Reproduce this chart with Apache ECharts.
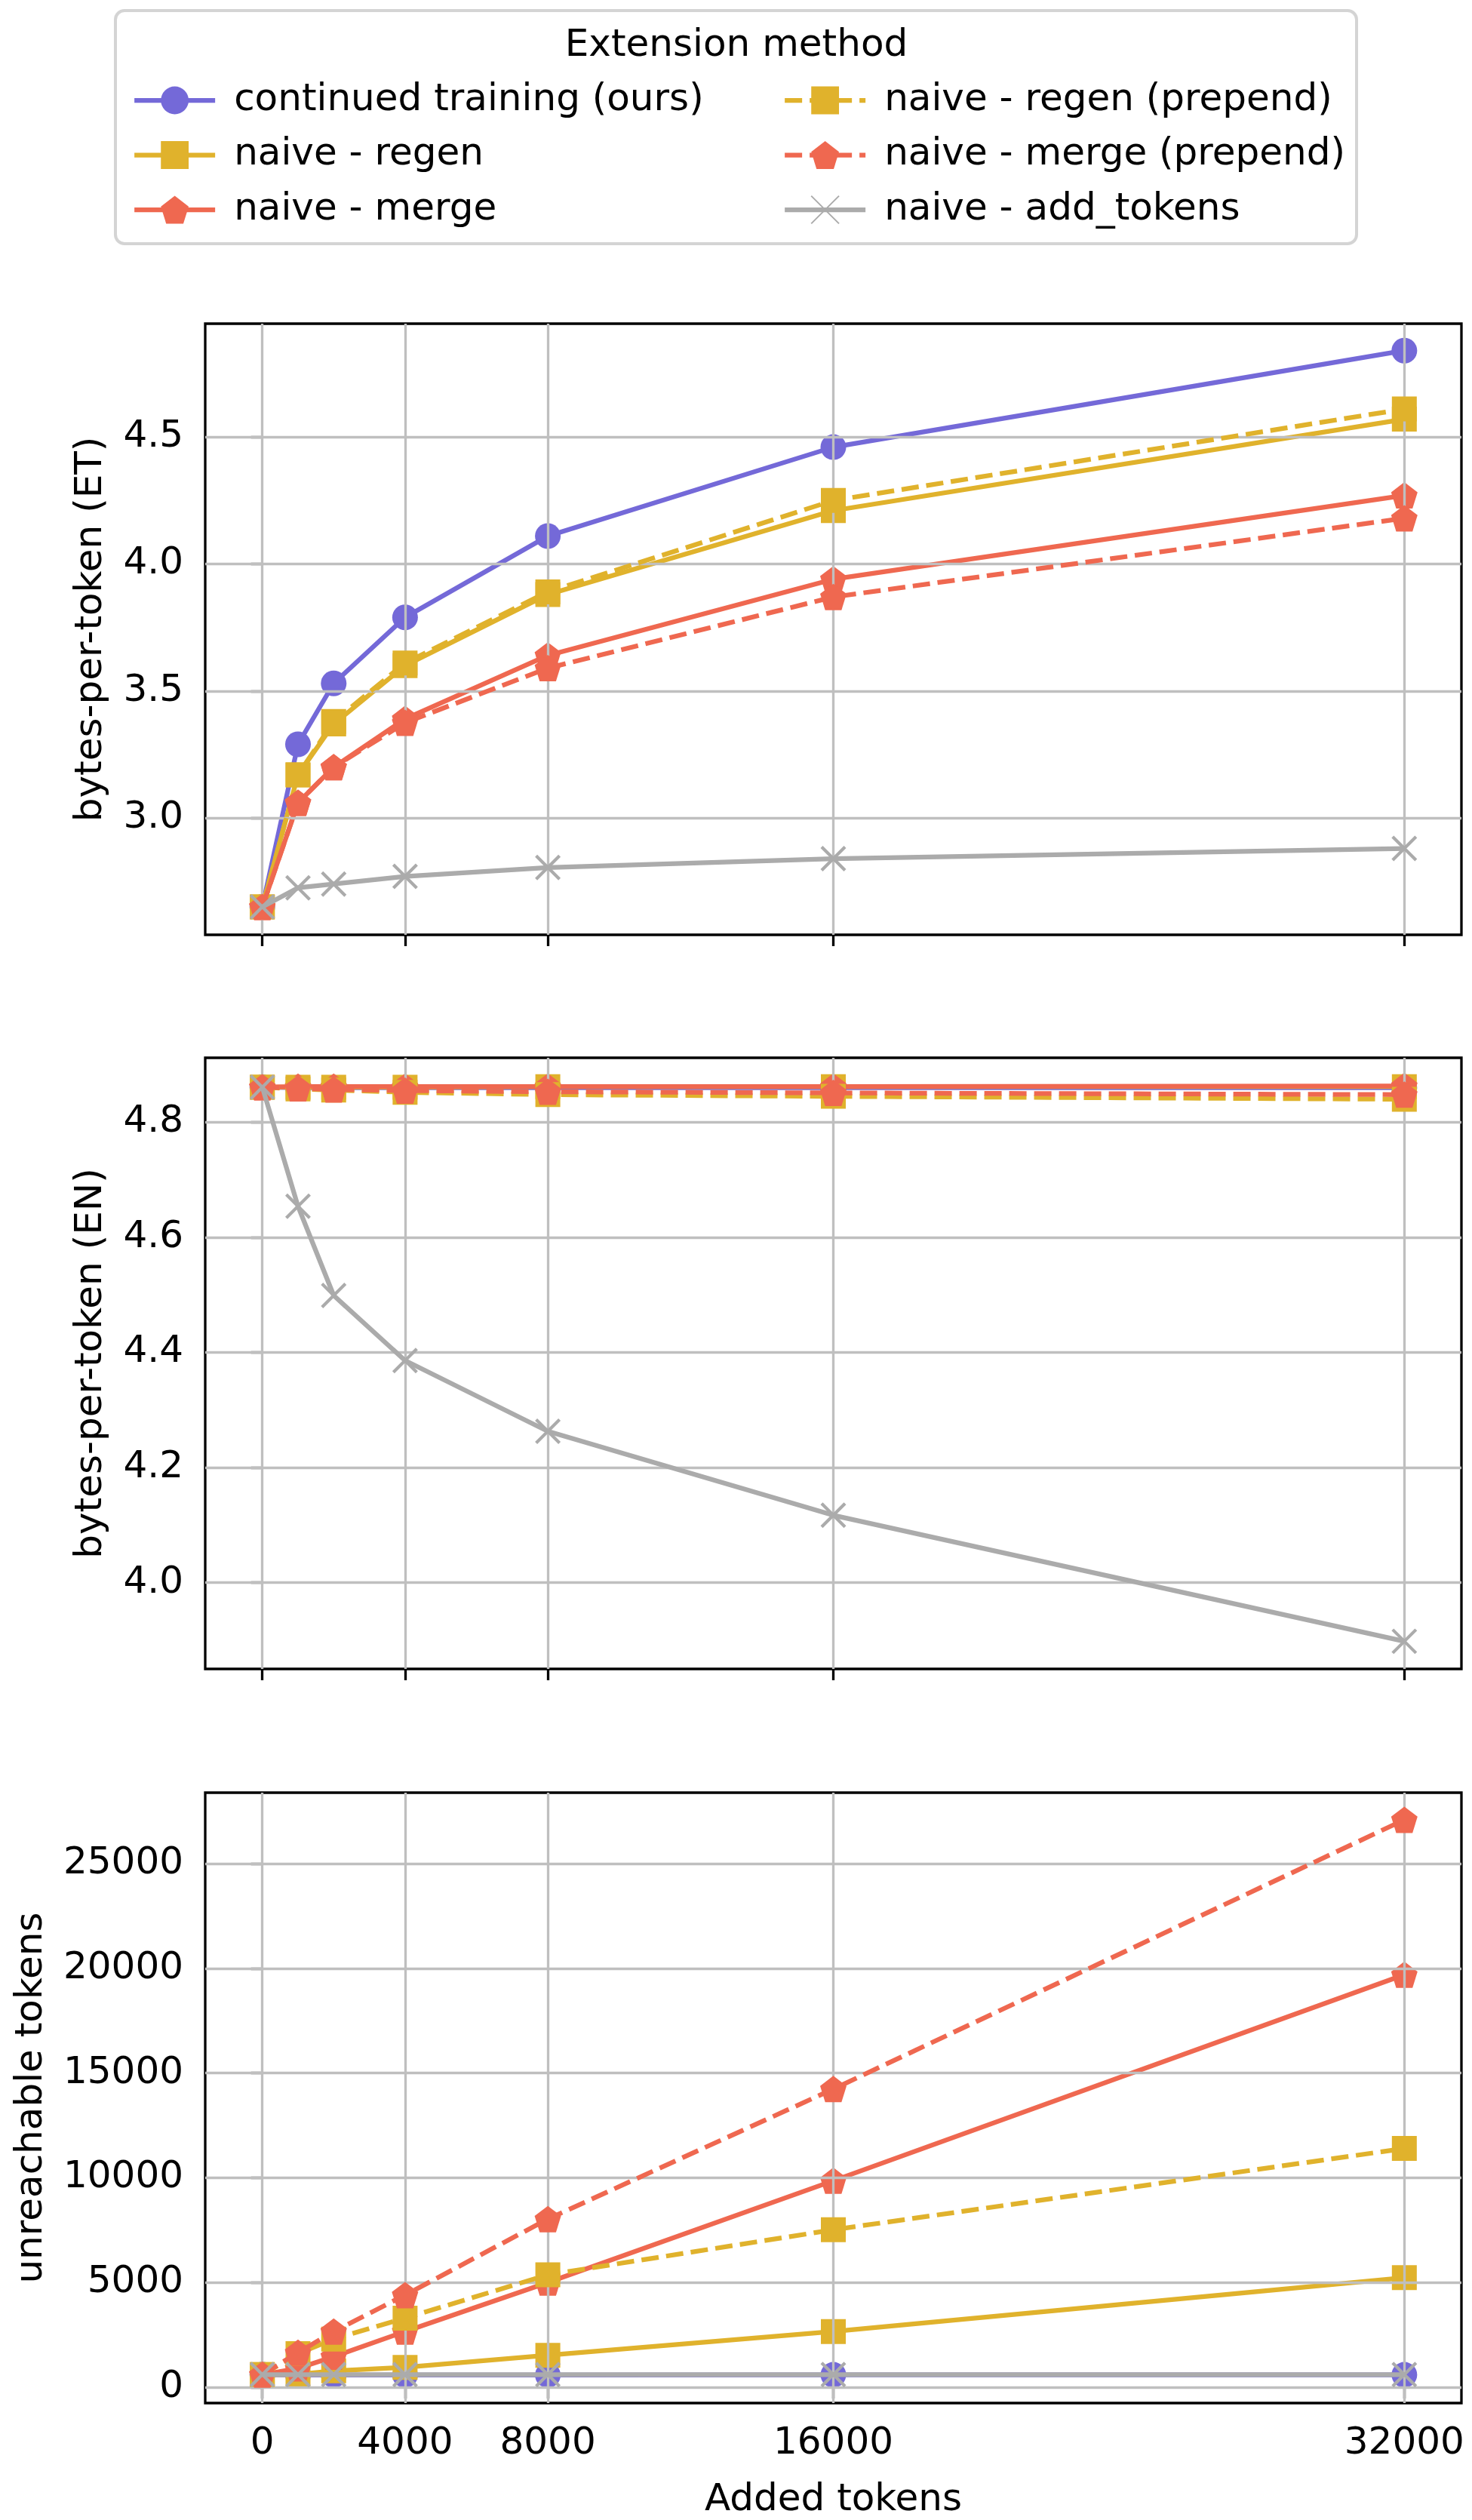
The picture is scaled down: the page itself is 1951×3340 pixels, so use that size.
<!DOCTYPE html>
<html>
<head>
<meta charset="utf-8">
<script src="https://cdn.jsdelivr.net/npm/echarts@6/dist/echarts.min.js"></script>
<style>
    body { margin: 0; background: #fff; }
    #main { width: 1951px; height: 3340px; }
</style>
</head>
<body>
<div id="main"></div>
<script>
var xTokens = [0, 1000, 2000, 4000, 8000, 16000, 32000];
var xTicks = [0, 4000, 8000, 16000, 32000];

var names = ['continued training (ours)', 'naive - regen', 'naive - merge',
    'naive - regen (prepend)', 'naive - merge (prepend)', 'naive - add_tokens'];

// bytes-per-token (ET)
var etContinued = [2.65, 3.29, 3.53, 3.79, 4.11, 4.46, 4.84];
var etRegen = [2.65, 3.17, 3.37, 3.60, 3.88, 4.21, 4.57];
var etMerge = [2.65, 3.06, 3.20, 3.39, 3.64, 3.94, 4.27];
var etRegenPrepend = [2.65, 3.17, 3.38, 3.61, 3.89, 4.25, 4.61];
var etMergePrepend = [2.65, 3.06, 3.20, 3.375, 3.59, 3.87, 4.18];
var etAddTokens = [2.65, 2.725, 2.74, 2.77, 2.805, 2.84, 2.88];

// bytes-per-token (EN)
var enContinued = [4.861, 4.860, 4.860, 4.860, 4.860, 4.860, 4.860];
var enRegen = [4.861, 4.861, 4.861, 4.861, 4.862, 4.862, 4.862];
var enMerge = [4.861, 4.862, 4.862, 4.862, 4.862, 4.862, 4.863];
var enRegenPrepend = [4.861, 4.858, 4.856, 4.852, 4.848, 4.845, 4.840];
var enMergePrepend = [4.861, 4.859, 4.857, 4.855, 4.853, 4.851, 4.848];
var enAddTokens = [4.861, 4.654, 4.499, 4.386, 4.263, 4.117, 3.898];

// unreachable tokens
var unContinued = [600, 580, 580, 580, 580, 590, 590];
var unRegen = [600, 620, 780, 950, 1525, 2660, 5230];
var unMerge = [600, 900, 1460, 2660, 5000, 9860, 19700];
var unRegenPrepend = [600, 1600, 2300, 3300, 5370, 7520, 11400];
var unMergePrepend = [600, 1650, 2660, 4400, 8030, 14240, 27100];
var unAddTokens = [600, 600, 600, 600, 600, 600, 600];

var yTicksET = [3.0, 3.5, 4.0, 4.5];
var yTicksEN = [4.0, 4.2, 4.4, 4.6, 4.8];
var yTicksUN = [0, 5000, 10000, 15000, 20000, 25000];

var panels = [
    {label: 'bytes-per-token (ET)', min: 2.54, max: 4.946, ticks: yTicksET, dec: 1, gap: 126,
        data: [etContinued, etRegen, etMerge, etRegenPrepend, etMergePrepend, etAddTokens]},
    {label: 'bytes-per-token (EN)', min: 3.85, max: 4.912, ticks: yTicksEN, dec: 1, gap: 126,
        data: [enContinued, enRegen, enMerge, enRegenPrepend, enMergePrepend, enAddTokens]},
    {label: 'unreachable tokens', min: -757, max: 28394, ticks: yTicksUN, dec: 0, gap: 205,
        data: [unContinued, unRegen, unMerge, unRegenPrepend, unMergePrepend, unAddTokens]}
];

var PURPLE = '#7469d8', GOLD = '#e0b22c', RED = '#ef6850', GRAY = '#ababab';
var FONT = 'DejaVu Sans';
var pentagon = 'path://M0,-1L0.951,-0.309L0.588,0.809L-0.588,0.809L-0.951,-0.309Z';
var cross = 'path://M0,0L10,10M10,0L0,10';

var styles = [
    {color: PURPLE, type: 'solid', symbol: 'circle', size: 34},
    {color: GOLD, type: 'solid', symbol: 'rect', size: 33},
    {color: RED, type: 'solid', symbol: pentagon, size: 35},
    {color: GOLD, type: [23, 10], symbol: 'rect', size: 33},
    {color: RED, type: [23, 10], symbol: pentagon, size: 35},
    {color: GRAY, type: 'solid', symbol: cross, size: 31}
];

var grids = [], xAxes = [], yAxes = [], series = [];
var tops = [429, 1402, 2376];

for (let p = 0; p < panels.length; p++) {
    var pn = panels[p];
    grids.push({
        left: 272, top: tops[p], width: 1665, height: 810,
        show: true, borderColor: '#000', borderWidth: 3.3, backgroundColor: 'transparent'
    });
    xAxes.push({
        type: 'value', gridIndex: p, min: -1600, max: 33600,
        axisLine: {show: false},
        axisTick: {show: true, customValues: xTicks, length: 15, lineStyle: {color: '#000', width: 3.3}},
        axisLabel: {
            show: p === 2, customValues: xTicks, fontSize: 50, fontFamily: FONT, color: '#000', margin: 29,
            formatter: function (v) { return String(v); }
        },
        splitLine: {show: false},
        name: p === 2 ? 'Added tokens' : '',
        nameLocation: 'middle', nameGap: 104,
        nameTextStyle: {fontSize: 50, fontFamily: FONT, color: '#000'}
    });
    let dec = pn.dec;
    yAxes.push({
        type: 'value', gridIndex: p, min: pn.min, max: pn.max,
        axisLine: {show: false},
        axisTick: {show: true, customValues: pn.ticks, length: 15, lineStyle: {color: '#000', width: 3.3}},
        axisLabel: {
            customValues: pn.ticks, fontSize: 50, fontFamily: FONT, color: '#000', margin: 29,
            formatter: function (v) { return Number(v).toFixed(dec); }
        },
        splitLine: {show: false},
        name: pn.label, nameLocation: 'middle', nameGap: pn.gap, nameRotate: 90,
        nameTextStyle: {fontSize: 50, fontFamily: FONT, color: '#000'}
    });

    // grid lines at the tick positions
    var gl = [];
    xTicks.forEach(function (v) { gl.push({xAxis: v}); });
    pn.ticks.forEach(function (v) { gl.push({yAxis: v}); });
    series.push({
        type: 'line', xAxisIndex: p, yAxisIndex: p, data: [], z: 1,
        markLine: {
            silent: true, symbol: ['none', 'none'], animation: false,
            label: {show: false},
            lineStyle: {color: '#bfbfbf', width: 3.3, type: 'solid'},
            data: gl
        }
    });

    for (let i = 0; i < names.length; i++) {
        var st = styles[i];
        var pts = [];
        for (let k = 0; k < xTokens.length; k++) {
            pts.push([xTokens[k], pn.data[i][k]]);
        }
        series.push({
            name: names[i],
            type: 'line',
            xAxisIndex: p, yAxisIndex: p,
            data: pts,
            z: 2 + i,
            symbol: st.symbol,
            symbolSize: st.size,
            showSymbol: true,
            lineStyle: {color: st.color, width: 6.25, type: st.type},
            itemStyle: {
                color: st.color,
                borderColor: st.color,
                borderWidth: st.symbol === cross ? 4.2 : 0
            },
            emphasis: {disabled: true}
        });
    }
}

var legendText = {fontSize: 50, fontFamily: FONT, color: '#000', lineHeight: 50, padding: [0, 0, 0, 20]};

var option = {
    animation: false,
    backgroundColor: '#fff',
    grid: grids,
    xAxis: xAxes,
    yAxis: yAxes,
    legend: [
        {data: names.slice(0, 3), orient: 'vertical', left: 170, top: 103,
            itemWidth: 107, itemHeight: 46, itemGap: 22.5, textStyle: legendText, selectedMode: false,
            lineStyle: {width: 6.25}},
        {data: names.slice(3), orient: 'vertical', left: 1032, top: 103,
            itemWidth: 107, itemHeight: 46, itemGap: 22.5, textStyle: legendText, selectedMode: false,
            lineStyle: {width: 6.25}}
    ],
    graphic: [
        {type: 'rect', z: -1, shape: {x: 153, y: 14, width: 1645, height: 309, r: 12},
            style: {fill: '#fff', stroke: '#d4d4d4', lineWidth: 4}},
        {type: 'text', x: 976, y: 61,
            style: {text: 'Extension method', fontSize: 50, fontFamily: FONT, fill: '#000',
                align: 'center', verticalAlign: 'middle'}}
    ],
    series: series
};

var myChart = echarts.init(document.getElementById('main'));
myChart.setOption(option, true);
</script>
</body>
</html>
